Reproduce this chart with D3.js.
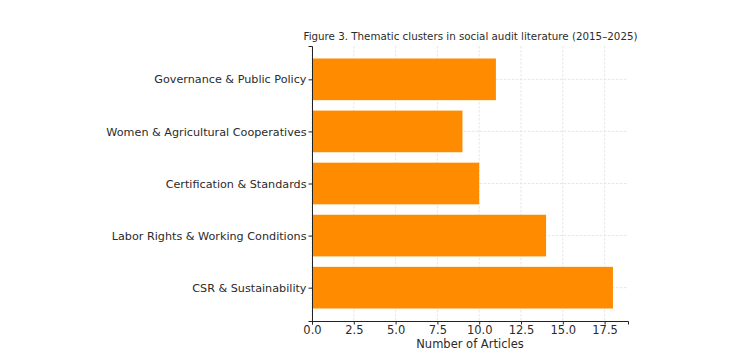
<!DOCTYPE html>
<html>
<head>
<meta charset="utf-8">
<script src="https://cdn.jsdelivr.net/npm/d3@7"></script>
<style>
  body { margin: 0; background: #fff; }
  text { font-family: "DejaVu Sans", sans-serif; fill: #2b2b2b; }
</style>
</head>
<body>
<script>
// clusters, listed bottom to top as in the figure
var categories = ["CSR & Sustainability", "Labor Rights & Working Conditions",
  "Certification & Standards", "Women & Agricultural Cooperatives", "Governance & Public Policy"];
var articles = [18, 14, 10, 9, 11];
var xTicks = [0, 2.5, 5, 7.5, 10, 12.5, 15, 17.5];

var titleText = "Figure 3. Thematic clusters in social audit literature (2015\u20132025)";
var xLabel = "Number of Articles";

var W = 754, H = 363;
var margin = {top: 46, right: 126, bottom: 42, left: 312},
    width = W - margin.left - margin.right,
    height = H - margin.top - margin.bottom;

var svg = d3.select("body").append("svg")
    .attr("width", W)
    .attr("height", H);

var g = svg.append("g")
    .attr("transform", "translate(" + margin.left + "," + margin.top + ")");

// matplotlib style 5% padding
var x = d3.scaleLinear().domain([0, d3.max(articles) * 1.05]).range([0, width]);
var y = d3.scaleLinear().domain([-0.64, categories.length - 1 + 0.64]).range([height, 0]);
var barH = Math.abs(y(0.4) - y(-0.4));

// grid
g.selectAll(".vgrid").data(xTicks).enter().append("line")
    .attr("x1", d => x(d)).attr("x2", d => x(d))
    .attr("y1", 0).attr("y2", height)
    .attr("stroke", "#e0e0e0").attr("stroke-width", 0.8)
    .attr("stroke-dasharray", "2.5,1.5");
g.selectAll(".hgrid").data(categories).enter().append("line")
    .attr("x1", 0).attr("x2", width)
    .attr("y1", (d, i) => y(i)).attr("y2", (d, i) => y(i))
    .attr("stroke", "#e0e0e0").attr("stroke-width", 0.8)
    .attr("stroke-dasharray", "2.5,1.5");

// bars
g.selectAll(".bar").data(articles).enter().append("rect")
    .attr("x", x(0))
    .attr("y", (d, i) => y(i) - barH / 2)
    .attr("width", d => x(d) - x(0))
    .attr("height", barH)
    .attr("fill", "#ff8c00");

// x axis
var xAxis = g.append("g")
    .attr("transform", "translate(0," + height + ")")
    .call(d3.axisBottom(x).tickValues(xTicks).tickFormat(d3.format(".1f"))
      .tickSizeOuter(0).tickSize(3.5).tickPadding(1.5));
xAxis.selectAll("text").style("font-size", "11.5px");

// y axis
var yAxis = g.append("g")
    .call(d3.axisLeft(y).tickValues(d3.range(categories.length))
      .tickFormat(i => categories[i]).tickSizeOuter(0).tickSize(3.5).tickPadding(2));
yAxis.selectAll("text").style("font-size", "11.2px");

svg.selectAll(".domain").attr("stroke", "#222").attr("stroke-width", 1);
svg.selectAll(".tick line").attr("stroke", "#222");

svg.append("text")
    .attr("x", margin.left + width / 2 + 0.5)
    .attr("y", 40)
    .attr("text-anchor", "middle")
    .style("font-size", "10.3px")
    .text(titleText);

svg.append("text")
    .attr("x", margin.left + width / 2)
    .attr("y", 348)
    .attr("text-anchor", "middle")
    .style("font-size", "11.5px")
    .text(xLabel);
</script>
</body>
</html>
